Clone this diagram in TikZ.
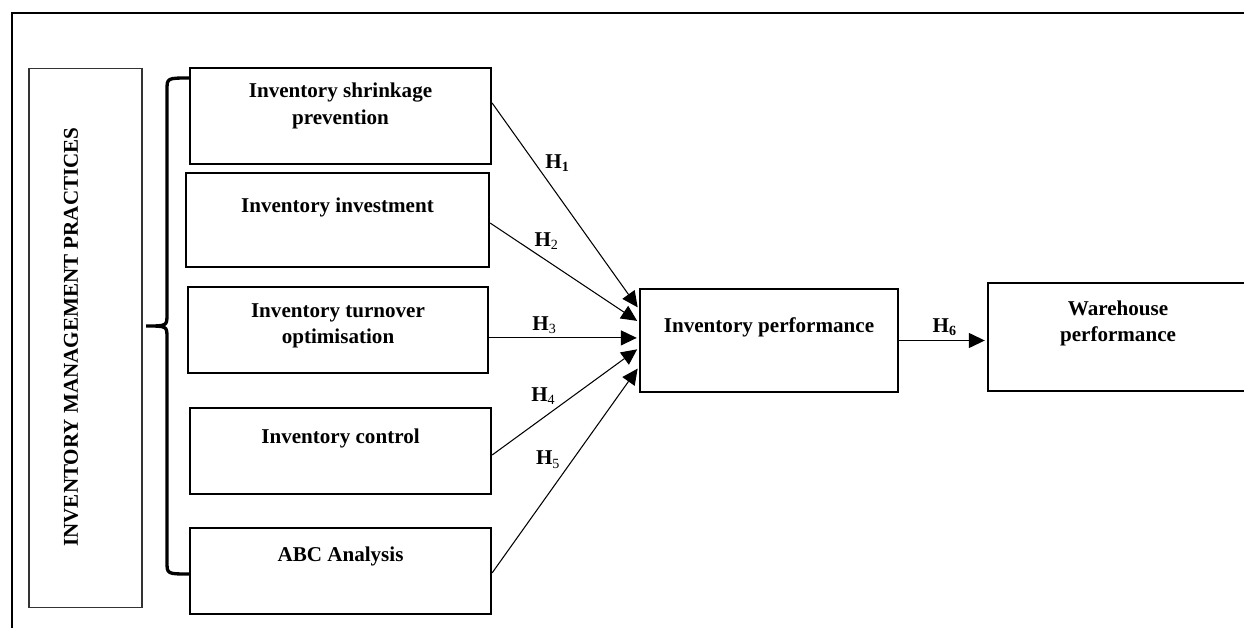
\documentclass[tikz,border=0pt]{standalone}
\usepackage{fontspec}
\setmainfont{Liberation Serif}
\usetikzlibrary{arrows.meta}

\begin{document}
\begin{tikzpicture}[x=0.02cm, y=-0.02cm,
  box/.style={draw, line width=1.3pt, inner sep=0pt},
  txt/.style={align=center, font=\bfseries\fontsize{12}{15}\selectfont, inner sep=0pt},
  arr/.style={-{Triangle[length=9pt,width=8.5pt]}, line width=0.6pt, shorten >=1.2pt},
  hyp/.style={font=\fontsize{12}{14}\selectfont, inner sep=0pt}]
  \useasboundingbox (0,0) rectangle (1244,628);
  % --- outer frame (cut at right and bottom) ----------------------------
  \draw[line width=1.4pt] (12,640) -- (12,13) -- (1260,13);

  % --- construct on the left --------------------------------------------
  \node[draw=black!80, line width=0.6pt, minimum width=2.26cm, minimum height=10.8cm] (imp) at (85.5,338) {};
  \node[txt, rotate=90] (impT) at (71,337) {INVENTORY MANAGEMENT PRACTICES};
  % curly brace
  \draw[line width=1.9pt] (190,78) .. controls (167,78) .. (167,90) -- (167,314)
    .. controls (167,326) .. (146,326) .. controls (167,326) .. (167,338)
    -- (167,562) .. controls (167,574) .. (190,574);

  % --- practices --------------------------------------------------------
  \node[box, minimum width=6.02cm, minimum height=1.92cm] (shrink) at (340.5,116) {};
  \node[txt] (shrinkT) at ([yshift=5.7pt]shrink.center) {Inventory shrinkage\\prevention};
  \node[box, minimum width=6.06cm, minimum height=1.88cm] (invest) at (337.5,220) {};
  \node[txt] (investT) at ([yshift=7.4pt]invest.center) {Inventory investment};
  \node[box, minimum width=6.0cm, minimum height=1.72cm] (turn) at (338,330) {};
  \node[txt] (turnT) at ([yshift=2.3pt]turn.center) {Inventory turnover\\optimisation};
  \node[box, minimum width=6.02cm, minimum height=1.72cm] (ctrl) at (340.5,451) {};
  \node[txt] (ctrlT) at ([yshift=7.4pt]ctrl.center) {Inventory control};
  \node[box, minimum width=6.02cm, minimum height=1.72cm] (abc) at (340.5,571) {};
  \node[txt] (abcT) at ([yshift=8pt]abc.center) {ABC Analysis};

  % --- outcomes ---------------------------------------------------------
  \node[box, minimum width=5.16cm, minimum height=2.06cm] (perf) at (769,340.5) {};
  \node[txt] (perfT) at ([yshift=7.7pt]perf.center) {Inventory performance};
  \node[box, minimum width=5.2cm, minimum height=2.16cm] (ware) at (1118,337) {};
  \node[txt] (wareT) at ([yshift=7.7pt]ware.center) {Warehouse\\performance};

  % --- hypotheses -------------------------------------------------------
  \draw[arr] ([yshift=7.4pt]shrink.east) -- ([yshift=17.9pt]perf.west)
    node[hyp, pos=0.29, xshift=13pt] (h1) {\textbf{H\textsubscript{1}}};
  \draw[arr] ([yshift=-1.7pt]invest.east) -- ([yshift=10.5pt]perf.west)
    node[hyp, pos=0.38, yshift=11.3pt] (h2) {\textbf{H}\textsubscript{2}};
  \coordinate (h3s) at ([yshift=-4.5pt]turn.east);
  \draw[arr] (h3s) -- (h3s -| perf.west)
    node[hyp, pos=0.37, yshift=7.4pt] (h3) {\textbf{H}\textsubscript{3}};
  \draw[arr] ([yshift=-2.3pt]ctrl.east) -- ([yshift=-4.3pt]perf.west)
    node[hyp, pos=0.35, yshift=12pt] (h4) {\textbf{H}\textsubscript{4}};
  \draw[arr] ([yshift=-1.1pt]abc.east) -- ([yshift=-15pt]perf.west)
    node[hyp, pos=0.55, xshift=-14pt] (h5) {\textbf{H}\textsubscript{5}};
  \draw[arr] (perf.east) -- (perf.east -| ware.west)
    node[hyp, pos=0.52, yshift=7.4pt] (h6) {\textbf{H\textsubscript{6}}};
\end{tikzpicture}
\end{document}
